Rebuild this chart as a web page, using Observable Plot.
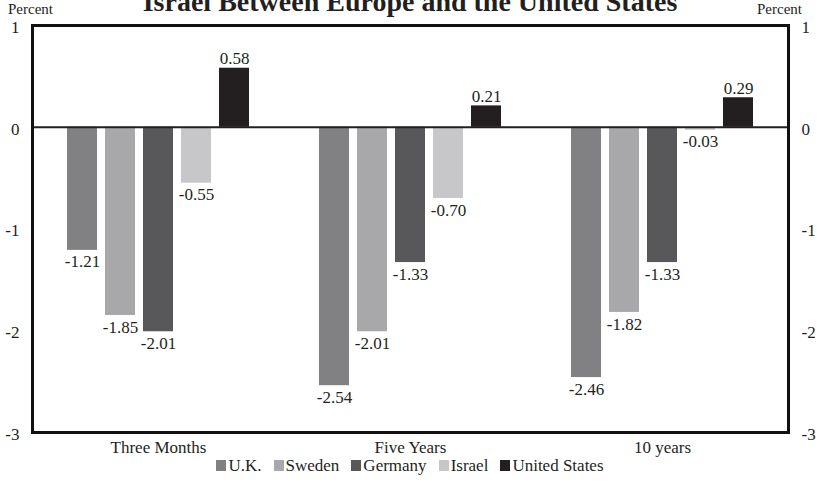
<!DOCTYPE html>
<html>
<head>
<meta charset="utf-8">
<script src="https://cdn.jsdelivr.net/npm/d3@7"></script>
<script src="https://cdn.jsdelivr.net/npm/@observablehq/plot@0.6"></script>
<style>
  html, body { margin: 0; padding: 0; background: #fff; }
  body { width: 820px; height: 494px; position: relative; overflow: hidden; font-family: "Liberation Serif", "DejaVu Serif", serif; color: #231f20; }
  #title { position: absolute; left: 0; width: 820px; top: -12px; text-align: center; font-weight: bold; font-size: 28px; line-height: 28px; }
  .unit { position: absolute; top: 2px; font-size: 15px; line-height: 15px; }
  #chart { position: absolute; left: 0; top: 0; }
  #legend { position: absolute; left: 0; width: 820px; top: 456px; text-align: center; font-size: 17px; line-height: 19px; }
  #legend span.item { margin: 0 6px; white-space: nowrap; }
  #legend span.sw { display: inline-block; width: 10px; height: 11px; margin-right: 2px; vertical-align: 0px; }
</style>
</head>
<body>
<div id="title">Israel Between Europe and the United States</div>
<div class="unit" style="left:8px">Percent</div>
<div class="unit" style="right:18px">Percent</div>
<div id="chart"></div>
<div id="legend"></div>
<script>
const groups = ["Three Months", "Five Years", "10 years"];
const countries = ["U.K.", "Sweden", "Germany", "Israel", "United States"];
const ukValues = [-1.21, -2.54, -2.46];
const swedenValues = [-1.85, -2.01, -1.82];
const germanyValues = [-2.01, -1.33, -1.33];
const israelValues = [-0.55, -0.70, -0.03];
const usValues = [0.58, 0.21, 0.29];
const yTicks = [1, 0, -1, -2, -3];
const colors = ["#818184", "#a8a8ab", "#58585a", "#c7c7c9", "#231f20"];

const seriesValues = [ukValues, swedenValues, germanyValues, israelValues, usValues];
const data = [];
countries.forEach((c, i) => {
  groups.forEach((g, j) => {
    data.push({group: g, country: c, value: seriesValues[i][j]});
  });
});
const fmt = v => v.toFixed(2);
const pos = data.filter(d => d.value >= 0);
const neg = data.filter(d => d.value < 0);

const chart = Plot.plot({
  width: 820,
  height: 458,
  marginLeft: 31,
  marginRight: 32,
  marginTop: 25,
  marginBottom: 26,
  style: {fontFamily: "'Liberation Serif', serif", fontSize: "17px", background: "transparent", color: "#231f20", overflow: "visible"},
  fx: {domain: groups, label: null, padding: 0, axis: "bottom", tickSize: 0, tickPadding: 8},
  x: {domain: countries, axis: null, paddingInner: 0.2, paddingOuter: 0.86},
  y: {domain: [-3, 1], label: null, axis: null},
  color: {domain: countries, range: colors},
  marks: [
    Plot.axisY(yTicks, {anchor: "left", tickSize: 0, tickPadding: 13, label: null, dy: 2, tickFormat: d => String(d).replace("\u2212", "-"), fontWeight: "normal"}),
    Plot.axisY(yTicks, {anchor: "right", tickSize: 0, tickPadding: 13, label: null, dy: 2, tickFormat: d => String(d).replace("\u2212", "-"), fontWeight: "normal"}),
    Plot.barY(data, {fx: "group", x: "country", y: "value", fill: "country"}),
    Plot.ruleY([0], {stroke: "#231f20", strokeWidth: 2}),
    Plot.text(pos, {fx: "group", x: "country", y: "value", text: d => fmt(d.value), lineAnchor: "bottom", dy: -4, fill: "#231f20"}),
    Plot.text(neg, {fx: "group", x: "country", y: "value", text: d => fmt(d.value), lineAnchor: "top", dy: 5, fill: "#231f20"}),
    Plot.frame({facet: "super", stroke: "#111", strokeWidth: 3})
  ]
});
document.getElementById("chart").appendChild(chart);

const legend = document.getElementById("legend");
countries.forEach((c, i) => {
  const item = document.createElement("span");
  item.className = "item";
  const sw = document.createElement("span");
  sw.className = "sw";
  sw.style.background = colors[i];
  item.appendChild(sw);
  item.appendChild(document.createTextNode(c));
  legend.appendChild(item);
});
</script>
</body>
</html>
